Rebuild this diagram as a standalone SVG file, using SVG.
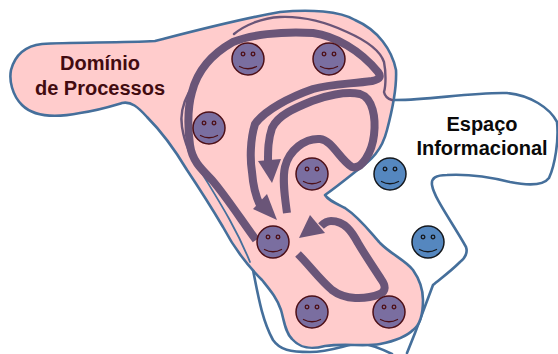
<svg xmlns="http://www.w3.org/2000/svg" width="558" height="354" viewBox="0 0 558 354">
<style>
.line{fill:none;stroke:#456f9b;stroke-width:2.6;stroke-linejoin:round;stroke-linecap:round}
.inner{stroke-width:1.8}
.thin{fill:none;stroke:#6a5578;stroke-width:2.4;stroke-linecap:round;stroke-linejoin:round}
.flow{fill:none;stroke:#6a5578;stroke-width:8;stroke-linecap:butt;stroke-linejoin:round}
.head{fill:#6a5578}
.p{fill:#7a6ea0;stroke:#4d1018}
.b{fill:#5587bf;stroke:#15181d}
.face{stroke-width:1.5}
.eye{fill:none;stroke-width:1.3}
.mouth{fill:none;stroke-width:1.3;stroke-linecap:round}
text{font-family:"Liberation Sans",Arial,sans-serif;font-weight:bold;font-size:20px;text-anchor:middle}
</style>
<defs>
<g id="smile">
<circle class="face" r="16"/>
<circle class="eye" cx="-5" cy="-5" r="1.8"/>
<circle class="eye" cx="5" cy="-5" r="1.8"/>
<path class="mouth" d="M-8.5 7.5Q0 12 8.5 7.5"/>
</g>
</defs>
<g id="espaco-informacional">
<path class="line" d="M392 100C425 101 470 92 507 93C530 95 550 108 557 122C559 140 555 165 549 178C543 186 525 185 510 182C490 177 465 174 447 175C436 175 431 178 432 185C434 198 452 222 466 247C468 253 465 258 460 262C450 272 440 279 433 285L415 333L407 353"/>
<path class="line" d="M200 170C215 195 245 235 253 270C258 295 262 320 273 340C280 350 290 352 310 352C330 352 345 345 360 343C372 345 382 349 392 354"/>
</g>
<g id="dominio-de-processos">
<path d="M155 41L163 39C190 32 240 19 280 12C310 9 340 11 355 20C378 30 392 50 396 70C397 90 391 115 387 130C382 150 372 160 355 172C345 180 335 188 325 195C328 200 335 203 345 208C360 218 370 232 380 243C392 255 405 260 413 270C420 280 423 290 423 300C423 315 420 325 413 330C405 338 390 342 380 344C365 347 345 343 325 346C310 350 300 348 292 339C285 332 284 320 281 310C277 298 270 290 262 280C250 268 235 250 223 227C210 205 197 185 187 170C175 150 160 130 147 117C138 107 131 101 122 103C112 106 100 110 80 113C60 117 35 118 22 105C12 95 9 80 11 70C15 55 25 46 42 44C70 42 120 43 155 41Z" fill="#ffcccc" stroke="#456f9b" stroke-width="2.6" stroke-linejoin="round"/>
<path class="line inner" d="M200 170C215 195 235 225 250 262"/>
</g>
<g id="connectors">
<path class="thin" d="M234 34C245 25 262 18 280 17C305 16 330 24 347 32C365 40 380 50 384 62C386 72 386 85 384 92C385 97 388 99 392 100"/>
<path class="thin" d="M189 92C182 105 180 115 182 127C185 145 190 155 200 170"/>
<path class="flow" d="M256 240C240 218 225 195 212 180C200 168 192 160 190 145C188 130 187 110 192 92C197 72 210 55 233 42C250 35 280 31 313 33C335 36 360 50 378 72C381 76 381 79 372 81C350 84 330 84 313 89C290 97 265 110 255 124C250 140 250 160 252 172C253 185 255 195 260 205"/>
<path class="head" d="M253 209L267 194L277 220Z"/>
<path class="flow" d="M287 213C285 198 282 180 285 167C289 150 305 138 320 139C332 140 340 160 352 167C362 170 372 152 374 135C376 118 373 98 360 94C345 91 325 96 312 101C295 108 278 115 272 128C268 140 268 150 268 162"/>
<path class="head" d="M258 161L281 159L272 183Z"/>
<path class="flow" d="M298 254C310 266 320 280 332 290C345 300 365 300 380 294C386 291 386 286 381 279C372 265 365 255 358 243C352 232 345 221 331 221C327 221 324 223 321 226"/>
<path class="head" d="M310 215L325 233L299 238Z"/>
</g>
<g id="n1" class="p"><use href="#smile" x="248" y="59"/></g>
<g id="n2" class="p"><use href="#smile" x="329" y="59"/></g>
<g id="n3" class="p"><use href="#smile" x="209" y="128"/></g>
<g id="n4" class="p"><use href="#smile" x="312" y="174"/></g>
<g id="n5" class="p"><use href="#smile" x="273" y="242"/></g>
<g id="n6" class="p"><use href="#smile" x="312" y="312"/></g>
<g id="n7" class="p"><use href="#smile" x="389" y="312"/></g>
<g id="n8" class="b"><use href="#smile" x="390" y="174"/></g>
<g id="n9" class="b"><use href="#smile" x="428" y="242"/></g>
<g id="label-dominio" fill="#420b10">
<text x="100" y="70">Domínio</text>
<text x="100" y="95">de Processos</text>
</g>
<g id="label-espaco" fill="#0a0a0a">
<text x="482" y="131">Espaço</text>
<text x="482" y="155">Informacional</text>
</g>
</svg>
